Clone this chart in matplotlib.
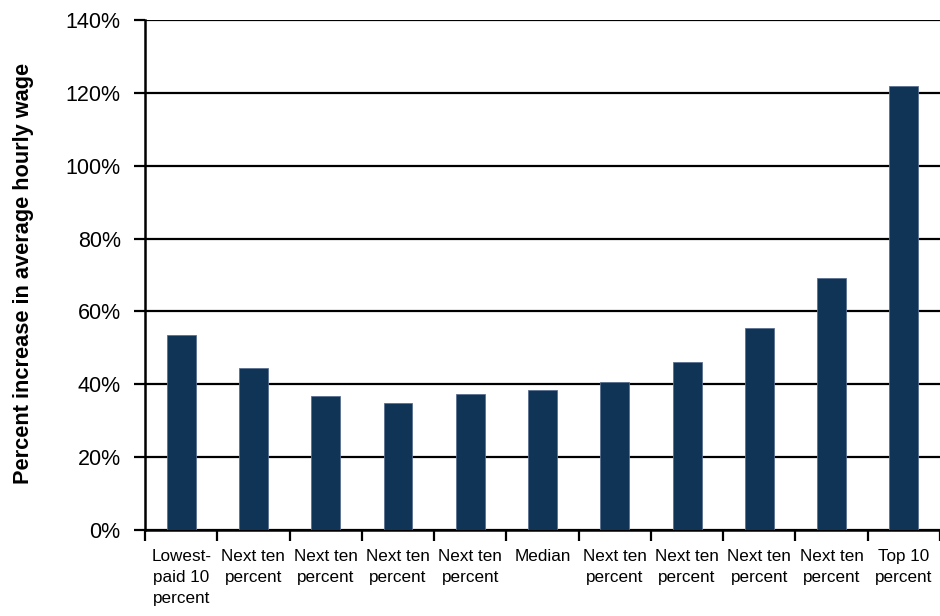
import matplotlib
matplotlib.use("Agg")
import matplotlib.pyplot as plt
from matplotlib.ticker import FuncFormatter, FixedLocator
import numpy as np

categories = ["Lowest-\npaid 10\npercent", "Next ten\npercent", "Next ten\npercent",
              "Next ten\npercent", "Next ten\npercent", "Median", "Next ten\npercent",
              "Next ten\npercent", "Next ten\npercent", "Next ten\npercent", "Top 10\npercent"]
values = [53.5, 44.5, 36.8, 35.0, 37.2, 38.5, 40.5, 46.0, 55.4, 69.2, 122.0]
yticks = [0, 20, 40, 60, 80, 100, 120, 140]

FONT = ["Liberation Sans", "DejaVu Sans"]
plt.rcParams['font.family'] = FONT

fig = plt.figure(figsize=(9.4, 6.16), dpi=100)
ax = fig.add_axes([145/940, 86/616, 795/940, 510/616])

x = np.arange(len(categories))
ax.set_axisbelow(True)
ax.yaxis.grid(True, color="black", linewidth=1.6)
ax.bar(x, values, width=0.4, color="#103456", edgecolor="#5a7090", linewidth=0.6, zorder=3)

ax.set_xlim(-0.5, len(categories) - 0.5)
ax.set_ylim(0, 140)
ax.set_yticks(yticks)
ax.yaxis.set_major_formatter(FuncFormatter(lambda v, p: f"{v:.0f}%"))
ax.tick_params(axis="y", labelsize=15.5, length=8, width=1.6, direction="out", pad=9.5)

ax.set_xticks(x)
ax.set_xticklabels(categories, fontsize=12.3, linespacing=1.5, va="top")
ax.tick_params(axis="x", which="major", length=0, pad=14)
ax.xaxis.set_minor_locator(FixedLocator(np.arange(-0.5, len(categories), 1.0)))
ax.tick_params(axis="x", which="minor", length=8, width=1.6, direction="out")

for s in ["top", "right"]:
    ax.spines[s].set_visible(False)
for s in ["left", "bottom"]:
    ax.spines[s].set_linewidth(1.8)
    ax.spines[s].set_color("black")

fig.text(24/940, 1 - 273/616, "Percent increase in average hourly wage",
         fontsize=15.7, fontweight="bold", rotation=90, ha="center", va="center")

fig.savefig("out.png", dpi=100)
